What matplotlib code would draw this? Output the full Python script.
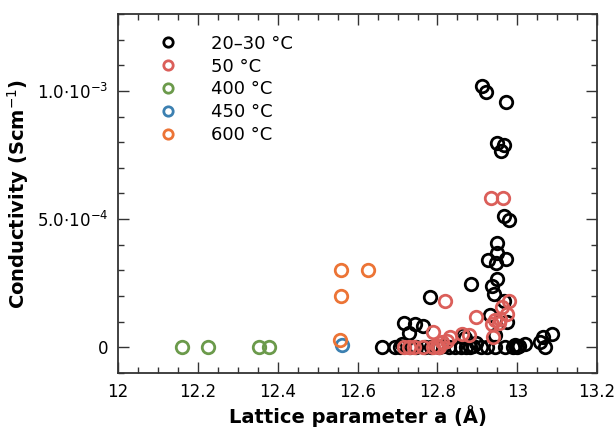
import numpy as np
import matplotlib
matplotlib.use("Agg")
import matplotlib.pyplot as plt
from matplotlib.ticker import MultipleLocator, FuncFormatter

# lattice parameter a (Angstrom) and conductivity (in 1e-4 S/cm)
rt_a = [12.911, 12.922, 12.972, 12.949, 12.966, 12.958, 12.967, 12.980,
        12.949, 12.950, 12.927, 12.946, 12.972, 12.949, 12.936, 12.942,
        12.885, 12.782, 12.966, 12.932, 12.717, 12.743, 12.764, 12.729,
        12.974, 12.943, 12.864, 12.870, 13.088, 13.064, 13.056, 13.069,
        13.020, 12.995, 13.004, 12.990, 13.000, 12.970, 12.661, 12.693,
        12.707, 12.712, 12.730, 12.745, 12.770, 12.785, 12.805, 12.815,
        12.830, 12.845, 12.860, 12.872, 12.882, 12.890, 12.897, 12.910,
        12.925, 12.945]
rt_s = [10.18, 9.98, 9.59, 7.98, 7.89, 7.66, 5.11, 4.98,
        4.08, 3.69, 3.41, 3.28, 3.45, 2.68, 2.40, 2.06,
        2.48, 1.97, 1.82, 1.24, 0.95, 0.91, 0.83, 0.55,
        0.98, 0.46, 0.46, 0.35, 0.51, 0.39, 0.20, 0.0,
        0.13, 0.10, 0.05, 0.0, 0.0, 0.0, 0.0, 0.0,
        0.0, 0.12, 0.0, 0.0, 0.0, 0.0, 0.0, 0.06,
        0.0, 0.0, 0.0, 0.0, 0.0, 0.05, 0.15, 0.0,
        0.0, 0.0]

t50_a = [12.935, 12.963, 12.818, 12.978, 12.961, 12.974, 12.896, 12.957,
         12.945, 12.936, 12.953, 12.790, 12.939, 12.861, 12.878, 12.832,
         12.824, 12.811, 12.798, 12.790, 12.715, 12.728, 12.741, 12.765,
         12.805]
t50_s = [5.82, 5.82, 1.80, 1.80, 1.56, 1.30, 1.17, 1.11,
         1.07, 0.91, 0.94, 0.59, 0.39, 0.52, 0.46, 0.39,
         0.26, 0.20, 0.03, 0.0, 0.0, 0.0, 0.0, 0.0,
         0.0]

t400_a = [12.160, 12.226, 12.353, 12.379]
t400_s = [0.0, 0.0, 0.0, 0.0]

t450_a = [12.561]
t450_s = [0.09]

t600_a = [12.559, 12.625, 12.559, 12.555]
t600_s = [3.00, 3.00, 1.98, 0.29]

labels = ['20\u201330 \u00b0C', '50 \u00b0C', '400 \u00b0C', '450 \u00b0C', '600 \u00b0C']
colors = ['black', '#db5f5a', '#6b9a4b', '#3c80b1', '#ec7436']

series = [(rt_a, rt_s), (t50_a, t50_s), (t400_a, t400_s),
          (t450_a, t450_s), (t600_a, t600_s)]

fig = plt.figure(figsize=(6.15, 4.29), dpi=100)
ax = fig.add_axes([0.192, 0.131, 0.779, 0.836])

for (a, s), lab, c in zip(series, labels, colors):
    ax.plot(a, np.array(s) * 1e-4, 'o', ls='none', ms=9, mfc='none',
            mec=c, mew=2, label=lab)

ax.set_xlim(12, 13.2)
ax.set_ylim(-1e-4, 1.3e-3)
ax.xaxis.set_major_locator(MultipleLocator(0.2))
ax.xaxis.set_minor_locator(MultipleLocator(0.05))
ax.yaxis.set_major_locator(MultipleLocator(5e-4))
ax.yaxis.set_minor_locator(MultipleLocator(1e-4))


def xfmt(v, pos):
    return ('%.1f' % v).rstrip('0').rstrip('.')


def yfmt(v, pos):
    if abs(v) < 1e-12:
        return '0'
    e = int(np.floor(np.log10(abs(v))))
    m = v / 10 ** e
    return r'$%.1f{\cdot}10^{%d}$' % (m, e)


ax.xaxis.set_major_formatter(FuncFormatter(xfmt))
ax.yaxis.set_major_formatter(FuncFormatter(yfmt))

ax.tick_params(which='both', direction='in', top=True, right=True,
               labelsize=12, width=1, color='#333333')
ax.tick_params(which='major', length=8, pad=7)
ax.tick_params(which='minor', length=4)
for sp in ax.spines.values():
    sp.set_linewidth(1.3)
    sp.set_color('#333333')

ax.set_xlabel('Lattice parameter a (\u00c5)', fontsize=14, fontweight='bold',
              labelpad=3)
ax.set_ylabel('Conductivity (Scm$^{-1}$)', fontsize=14,
              fontweight='bold', labelpad=4)

ax.legend(loc='upper left', bbox_to_anchor=(0.07, 0.963), frameon=False,
          fontsize=13, markerscale=0.75, handlelength=1.0,
          handletextpad=1.9, labelspacing=0.27, borderaxespad=0)

fig.savefig('out.png', dpi=100)
